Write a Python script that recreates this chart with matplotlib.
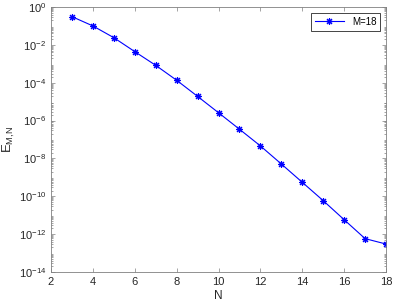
import numpy as np
import matplotlib.pyplot as plt
from matplotlib.ticker import LogLocator, FixedLocator

plt.rcParams['font.family'] = ['Liberation Sans', 'DejaVu Sans']
plt.rcParams['mathtext.fontset'] = 'custom'
plt.rcParams['mathtext.rm'] = 'Liberation Sans'
plt.rcParams['mathtext.it'] = 'Liberation Sans'

# data
N = [3, 4, 5, 6, 7, 8, 9, 10, 11, 12, 13, 14, 15, 16, 17, 18]
err = [0.31, 0.1, 0.024, 4.4e-3, 8.3e-4, 1.35e-4, 1.9e-5, 2.6e-6, 3.5e-7,
       4.6e-8, 5.1e-9, 5.5e-10, 5.9e-11, 5.8e-12, 5.8e-13, 3.0e-13]
xticks = [2, 4, 6, 8, 10, 12, 14, 16, 18]
yexp = [0, -2, -4, -6, -8, -10, -12, -14]

fig = plt.figure(figsize=(3.93, 3.04), dpi=100)
ax = fig.add_axes([51/393, 1-272/304, (386-51)/393, (272-7)/304])

ax.semilogy(N, err, '-', marker=(8, 2, 0), color='b', lw=0.8, ms=5, mew=0.8,
            label='M=18')

ax.set_xlim(2, 18)
ax.set_ylim(1e-14, 1)
ax.set_xticks(xticks)
ax.yaxis.set_major_locator(FixedLocator([10.0**e for e in yexp]))
ax.set_yticklabels(['$10^{%d}$' % e for e in yexp])
ax.yaxis.set_minor_locator(LogLocator(base=10, subs=np.arange(2, 10), numticks=30))
ax.yaxis.set_minor_formatter(plt.NullFormatter())

grey = '#262626'
for s in ax.spines.values():
    s.set_color('#808080')
    s.set_linewidth(0.6)
ax.tick_params(which='both', direction='in', top=True, right=True,
               colors='#808080', labelcolor=grey, labelsize=8, width=0.5)
ax.tick_params(which='major', length=3)
ax.tick_params(which='minor', length=1.5)

ax.set_xlabel('N', fontsize=8.5, color=grey, labelpad=2)
ax.set_ylabel('E$_{\\mathrm{M{,}N}}$', fontsize=9.5, color=grey, labelpad=1)

leg = ax.legend(loc='upper right', fontsize=7, fancybox=False, framealpha=1,
                handlelength=3, borderaxespad=0.6)
leg.get_frame().set_edgecolor(grey)
leg.get_frame().set_linewidth(0.6)

fig.savefig('out.png', dpi=100)
